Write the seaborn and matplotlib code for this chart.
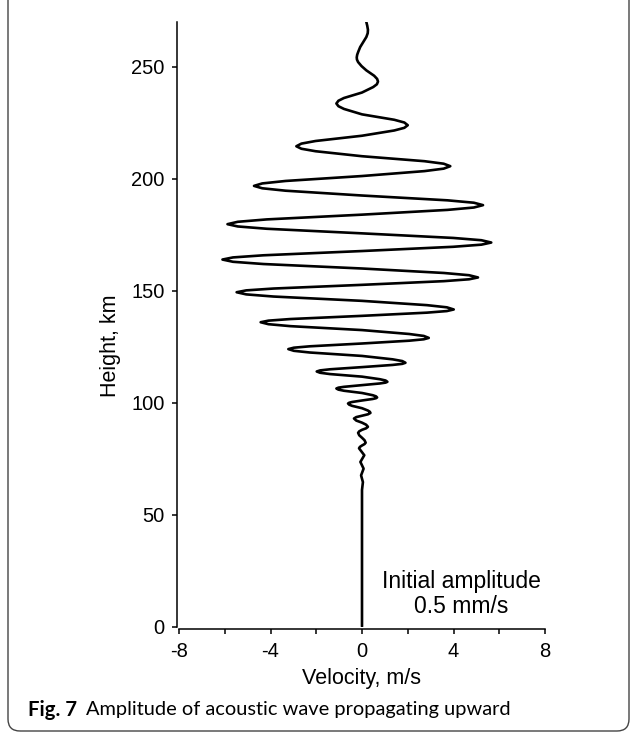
import matplotlib
matplotlib.use("Agg")
import matplotlib.pyplot as plt
import seaborn as sns
import pandas as pd
from matplotlib.patches import FancyBboxPatch
from matplotlib.transforms import IdentityTransform

# ---- data (height in km, velocity in m/s) ----
height = [
    0.0, 61.0,
    64.5, 67.5, 70.5, 73.5, 76.5, 79.6,
    80.23, 80.85, 81.48, 82.1,
    83.2, 84.3, 85.4, 86.5,
    87.18, 87.85, 88.53, 89.2,
    90.13, 91.05, 91.98, 92.9,
    93.53, 94.15, 94.78, 95.4,
    95.93, 96.45, 97.5, 98.55, 99.08, 99.6,
    99.94, 100.28, 100.95, 101.63, 101.96, 102.3,
    102.8, 103.3, 104.3, 105.3, 105.8, 106.3,
    106.68, 107.05, 107.8, 108.55, 108.93, 109.3,
    109.88, 110.45, 111.6, 112.75, 113.33, 113.9,
    114.39, 114.88, 115.85, 116.83, 117.31, 117.8,
    118.56, 119.33, 120.85, 122.38, 123.14, 123.9,
    124.53, 125.15, 126.4, 127.65, 128.28, 128.9,
    129.78, 130.65, 132.4, 134.15, 135.03, 135.9,
    136.61, 137.33, 138.75, 140.18, 140.89, 141.6,
    142.56, 143.53, 145.45, 147.38, 148.34, 149.3,
    150.13, 150.95, 152.6, 154.25, 155.08, 155.9,
    156.9, 157.9, 159.9, 161.9, 162.9, 163.9,
    164.85, 165.8, 167.7, 169.6, 170.55, 171.5,
    172.53, 173.55, 175.6, 177.65, 178.68, 179.7,
    180.76, 181.83, 183.95, 186.08, 187.14, 188.2,
    189.28, 190.35, 192.5, 194.65, 195.73, 196.8,
    197.9, 199.0, 201.2, 203.4, 204.5, 205.6,
    206.71, 207.83, 210.05, 212.28, 213.39, 214.5,
    215.68, 216.85, 219.2, 221.55, 222.73, 223.9,
    225.11, 226.33, 228.75, 231.18, 232.39, 233.6,
    234.83, 236.05, 238.5, 240.95, 242.18, 243.4,
    244.6, 246.0, 248.4, 250.3, 252.1, 253.2, 254.2, 255.4,
    256.8, 258.8, 261.0, 263.3, 265.0, 266.5, 268.3, 270.0,
]
velocity = [
    0.0, 0.0,
    0.04, -0.04, 0.07, -0.07, 0.10, -0.13,
    -0.09, 0.0, 0.11, 0.16,
    0.11, 0.0, -0.12, -0.17,
    -0.12, 0.0, 0.18, 0.26,
    0.18, 0.0, -0.25, -0.35,
    -0.25, 0.0, 0.26, 0.37,
    0.34, 0.26, 0.0, -0.43, -0.56, -0.61,
    -0.56, -0.43, 0.0, 0.47, 0.61, 0.66,
    0.61, 0.47, 0.0, -0.79, -1.03, -1.12,
    -1.03, -0.79, 0.0, 0.78, 1.03, 1.11,
    1.03, 0.78, 0.0, -1.40, -1.83, -1.98,
    -1.83, -1.40, 0.0, 1.34, 1.76, 1.90,
    1.76, 1.34, 0.0, -2.28, -2.98, -3.22,
    -2.98, -2.28, 0.0, 2.06, 2.70, 2.92,
    2.70, 2.06, 0.0, -3.13, -4.09, -4.43,
    -4.09, -3.13, 0.0, 2.84, 3.71, 4.01,
    3.71, 2.84, 0.0, -3.87, -5.06, -5.48,
    -5.06, -3.87, 0.0, 3.58, 4.68, 5.07,
    4.68, 3.58, 0.0, -4.31, -5.64, -6.10,
    -5.64, -4.31, 0.0, 3.99, 5.22, 5.65,
    5.22, 3.99, 0.0, -4.16, -5.43, -5.88,
    -5.43, -4.16, 0.0, 3.74, 4.89, 5.29,
    4.89, 3.74, 0.0, -3.34, -4.36, -4.72,
    -4.36, -3.34, 0.0, 2.73, 3.57, 3.86,
    3.57, 2.73, 0.0, -2.03, -2.65, -2.87,
    -2.65, -2.03, 0.0, 1.41, 1.85, 2.00,
    1.85, 1.41, 0.0, -0.79, -1.03, -1.12,
    -1.03, -0.79, 0.0, 0.49, 0.65, 0.70,
    0.66, 0.53, 0.19, -0.02, -0.17, -0.22, -0.23, -0.21,
    -0.16, -0.08, 0.05, 0.19, 0.25, 0.26, 0.23, 0.19,
]

xticks_major = [-8, -4, 0, 4, 8]
xticks_minor = [-6, -2, 2, 6]
yticks = [0, 50, 100, 150, 200, 250]

df = pd.DataFrame({"Velocity": velocity, "Height": height})

sns.set_theme(style="ticks")
plt.rcParams["font.family"] = ["Liberation Sans", "DejaVu Sans"]
plt.rcParams["axes.unicode_minus"] = False

W, H = 637, 733
fig = plt.figure(figsize=(W / 100, H / 100), dpi=100)
fig.patch.set_facecolor("white")

ax_left, ax_right = 179, 545
ax_top, ax_bottom = 22, 626.5
ax = fig.add_axes([ax_left / W, 1 - ax_bottom / H,
                   (ax_right - ax_left) / W, (ax_bottom - ax_top) / H])

sns.lineplot(data=df, x="Velocity", y="Height", sort=False, estimator=None,
             color="black", linewidth=1.9, ax=ax)
ax.lines[0].set_solid_joinstyle("round")

ax.set_xlim(-8, 8)
ax.set_ylim(0, 270)
ax.set_xticks(xticks_major)
ax.set_xticks(xticks_minor, minor=True)
ax.set_yticks(yticks)
ax.set_xticklabels([str(t) for t in xticks_major])
ax.set_yticklabels([str(t) for t in yticks])

sns.despine(ax=ax, offset=1.6)
for s in ("left", "bottom"):
    ax.spines[s].set_linewidth(1.1)
    ax.spines[s].set_color("black")

ax.tick_params(which="both", direction="out", length=3.6, width=1.1,
               color="black", labelsize=14.5, labelcolor="black")
ax.tick_params(axis="x", pad=6)
ax.tick_params(axis="y", pad=5)

ax.set_xlabel("Velocity, m/s", fontsize=15.5, color="black")
ax.set_ylabel("Height, km", fontsize=15.5, color="black")
ax.xaxis.set_label_coords(0.5, (ax_bottom - 668) / (ax_bottom - ax_top))
ax.yaxis.set_label_coords((121 - ax_left) / (ax_right - ax_left),
                          (ax_bottom - 346) / (ax_bottom - ax_top))

ax.text(4.35, 14.5, "Initial amplitude\n0.5 mm/s", ha="center", va="center",
        fontsize=16.5, linespacing=1.1, color="black")

# caption
fig.text(28 / W, 1 - 710 / H, "Fig. 7", fontweight="bold", fontsize=14.6,
         family=["Lato", "DejaVu Sans"], va="center", ha="left", color="black")
fig.text(86 / W, 1 - 710 / H, "Amplitude of acoustic wave propagating upward",
         fontsize=14.4, family=["Lato", "DejaVu Sans"], va="center", ha="left",
         color="black")

# rounded frame
frame = FancyBboxPatch((8, H - 731), 621, 760,
                       boxstyle="round,pad=0,rounding_size=12",
                       transform=IdentityTransform(), fill=False,
                       edgecolor="#444444", linewidth=1.0)
fig.add_artist(frame)

fig.savefig("out.png", dpi=100, facecolor="white")
